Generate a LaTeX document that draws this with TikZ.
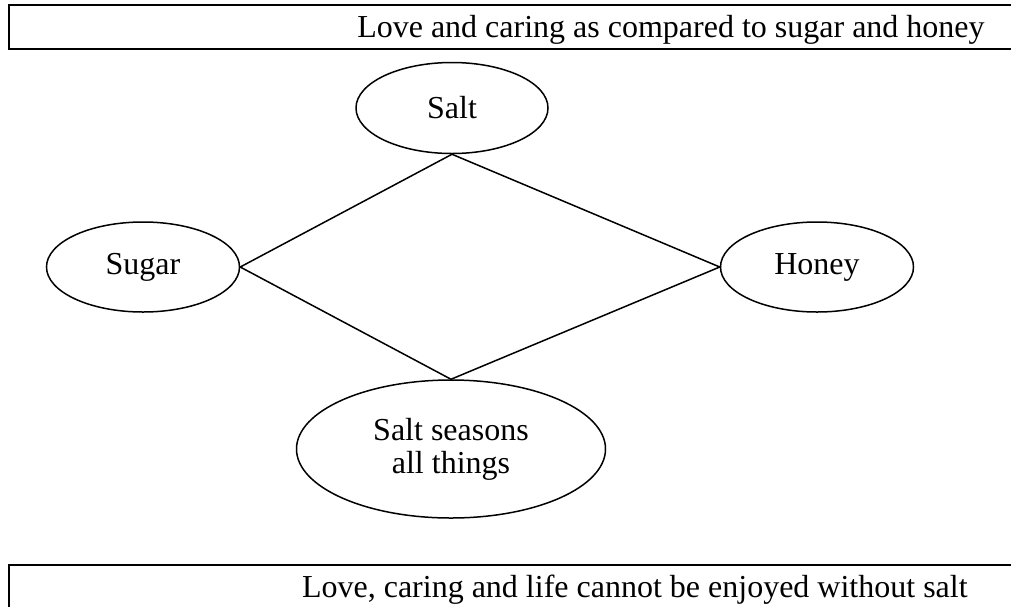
\documentclass[tikz,border=0pt]{standalone}
\usepackage{fontspec}
\setmainfont{Liberation Serif}
\usetikzlibrary{shapes.geometric}
\begin{document}
\begin{tikzpicture}[x=0.5pt,y=-0.5pt,
  oval/.style={draw, ellipse, line width=0.75pt, inner sep=0pt, align=center,
    font=\fontsize{16}{16.5}\selectfont},
  conn/.style={line width=0.75pt},
  banner/.style={draw, line width=1pt},
  bannertext/.style={inner sep=0pt, font=\fontsize{16}{19}\selectfont}]
\useasboundingbox (0,0) rectangle (1011,606);
\clip (0,0) rectangle (1011,606);
\draw[banner] (1030,5) -- (9,5) -- (9,49) -- (1030,49);
\node[bannertext, anchor=base east] (toptext) at (985,37) {Love and caring as compared to sugar and honey};
\draw[banner] (1030,565) -- (9,565) -- (9,640);
\node[bannertext, anchor=base east] (bottext) at (968,597) {Love, caring and life cannot be enjoyed without salt};
\node[oval, minimum width=96pt, minimum height=45.5pt] (salt) at (452,108) {Salt};
\node[oval, minimum width=96.5pt, minimum height=45pt] (sugar) at (143,267) {Sugar};
\node[oval, minimum width=96.5pt, minimum height=45pt] (honey) at (817,267) {Honey};
\node[oval, minimum width=154.5pt, minimum height=69pt] (seasons) at (451,449) {Salt seasons\\all things};
\draw[conn] (sugar.east) -- (salt.south) -- (honey.west) -- (seasons.north) -- (sugar.east);
\end{tikzpicture}
\end{document}
